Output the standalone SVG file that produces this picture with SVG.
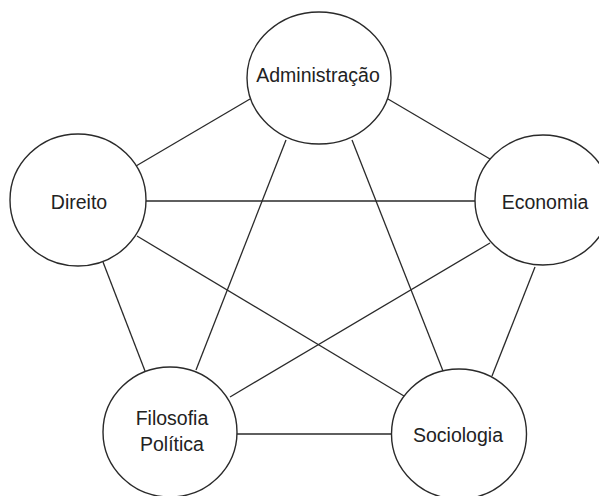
<svg xmlns="http://www.w3.org/2000/svg" width="599" height="496" viewBox="0 0 599 496">
<style>
.n{fill:#fff;stroke:#2a2a2a;stroke-width:1.4}
.e{stroke:#2a2a2a;stroke-width:1.3;fill:none}
text{font-family:"Liberation Sans",Arial,sans-serif;font-size:19.5px;fill:#222;text-anchor:middle}
</style>
<rect width="599" height="496" fill="#fff"/>
<g id="connectors">
<line class="e" x1="250" y1="99" x2="136" y2="166"/>
<line class="e" x1="388" y1="99" x2="490" y2="159"/>
<line class="e" x1="286" y1="140" x2="196" y2="370"/>
<line class="e" x1="352" y1="140" x2="443" y2="371"/>
<line class="e" x1="146" y1="201" x2="475" y2="201"/>
<line class="e" x1="137" y1="236" x2="404" y2="396"/>
<line class="e" x1="103" y1="262" x2="145" y2="371"/>
<line class="e" x1="490" y1="243" x2="230" y2="397"/>
<line class="e" x1="535" y1="267" x2="492" y2="376"/>
<line class="e" x1="237" y1="434" x2="392" y2="434"/>
</g>
<g id="administracao"><ellipse class="n" cx="319" cy="78" rx="72" ry="66"/><text x="318" y="82">Administração</text></g>
<g id="direito"><ellipse class="n" cx="78" cy="200" rx="68" ry="66"/><text x="79" y="209">Direito</text></g>
<g id="economia"><ellipse class="n" cx="543" cy="200" rx="68" ry="65"/><text x="545" y="209">Economia</text></g>
<g id="filosofia"><ellipse class="n" cx="170" cy="432" rx="67" ry="65"/><text x="172" y="425">Filosofia</text><text x="172" y="451">Política</text></g>
<g id="sociologia"><ellipse class="n" cx="459" cy="434" rx="67.5" ry="65"/><text x="458" y="442">Sociologia</text></g>
</svg>
